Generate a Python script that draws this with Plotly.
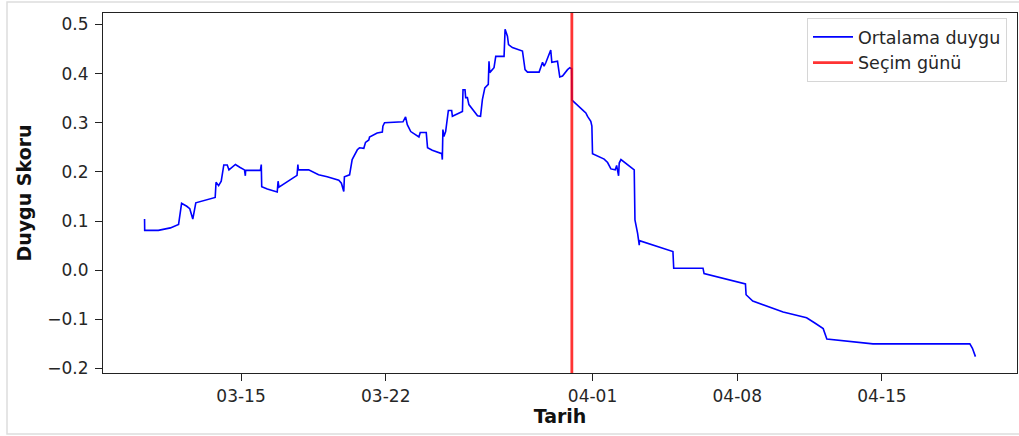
import pandas as pd
import plotly.graph_objects as go

# Rolling mean sentiment score over time
times = [
    "2024-03-10 08:00", "2024-03-10 08:10", "2024-03-11 00:00", "2024-03-11 14:00",
    "2024-03-11 23:30", "2024-03-12 03:00", "2024-03-12 09:00", "2024-03-12 12:30",
    "2024-03-12 16:00", "2024-03-12 19:30", "2024-03-13 18:00", "2024-03-13 19:00",
    "2024-03-13 22:00", "2024-03-14 01:00", "2024-03-14 04:00", "2024-03-14 08:00",
    "2024-03-14 10:00", "2024-03-14 13:30", "2024-03-14 17:30", "2024-03-14 23:00",
    "2024-03-15 04:00", "2024-03-15 05:00", "2024-03-15 05:20", "2024-03-15 22:30",
    "2024-03-15 23:30", "2024-03-16 00:00", "2024-03-16 06:30", "2024-03-16 18:00",
    "2024-03-16 19:00", "2024-03-16 20:00", "2024-03-17 17:00", "2024-03-17 18:00",
    "2024-03-17 18:30", "2024-03-18 06:30", "2024-03-18 18:00", "2024-03-19 04:00",
    "2024-03-19 17:30", "2024-03-19 20:30", "2024-03-19 23:15", "2024-03-20 00:00",
    "2024-03-20 06:00", "2024-03-20 09:00", "2024-03-20 11:00", "2024-03-20 15:00",
    "2024-03-20 17:30", "2024-03-20 22:30", "2024-03-21 00:30", "2024-03-21 04:20",
    "2024-03-21 05:10", "2024-03-21 14:00", "2024-03-21 20:00", "2024-03-21 20:40",
    "2024-03-21 22:35", "2024-03-22 09:30", "2024-03-22 20:00", "2024-03-22 23:00",
    "2024-03-23 01:00", "2024-03-23 05:00", "2024-03-23 10:30", "2024-03-23 14:30",
    "2024-03-23 16:00", "2024-03-23 23:00", "2024-03-24 00:30", "2024-03-24 06:00",
    "2024-03-24 17:00", "2024-03-24 17:40", "2024-03-24 18:20", "2024-03-24 19:30",
    "2024-03-24 21:30", "2024-03-24 23:30", "2024-03-25 00:40", "2024-03-25 04:30",
    "2024-03-25 05:20", "2024-03-25 17:00", "2024-03-25 17:40", "2024-03-25 20:00",
    "2024-03-25 20:45", "2024-03-25 22:45", "2024-03-26 00:30", "2024-03-26 10:30",
    "2024-03-26 14:00", "2024-03-26 16:10", "2024-03-26 19:00", "2024-03-26 23:00",
    "2024-03-26 23:50", "2024-03-27 00:40", "2024-03-27 05:40", "2024-03-27 07:40",
    "2024-03-27 17:20", "2024-03-27 18:30", "2024-03-27 21:15", "2024-03-27 22:30",
    "2024-03-28 03:00", "2024-03-28 14:40", "2024-03-28 17:40", "2024-03-28 20:30",
    "2024-03-29 10:00", "2024-03-29 14:00", "2024-03-29 15:45", "2024-03-29 17:45",
    "2024-03-29 23:30", "2024-03-30 00:45", "2024-03-30 07:20", "2024-03-30 10:00",
    "2024-03-30 13:10", "2024-03-30 19:00", "2024-03-30 21:40", "2024-03-30 23:50",
    "2024-03-31 00:10", "2024-03-31 14:15", "2024-03-31 16:15", "2024-03-31 18:15",
    "2024-03-31 22:00", "2024-03-31 23:15", "2024-04-01 00:00", "2024-04-01 13:30",
    "2024-04-01 17:30", "2024-04-01 21:20", "2024-04-02 02:20", "2024-04-02 04:00",
    "2024-04-02 06:15", "2024-04-02 07:00", "2024-04-02 09:00", "2024-04-03 00:25",
    "2024-04-03 01:15", "2024-04-03 04:20", "2024-04-03 06:15", "2024-04-03 06:30",
    "2024-04-04 21:20", "2024-04-04 22:15", "2024-04-06 08:15", "2024-04-06 09:30",
    "2024-04-08 09:30", "2024-04-08 10:15", "2024-04-08 18:00", "2024-04-10 05:15",
    "2024-04-11 08:30", "2024-04-11 18:30", "2024-04-12 03:45", "2024-04-12 08:00",
    "2024-04-13 07:40", "2024-04-14 13:30", "2024-04-19 06:00", "2024-04-19 09:00",
    "2024-04-19 12:30",
]

scores = [
    0.104, 0.081, 0.081, 0.086,
    0.093, 0.136, 0.130, 0.125,
    0.104, 0.137, 0.148, 0.179,
    0.172, 0.181, 0.214, 0.214,
    0.204, 0.210, 0.215, 0.209,
    0.204, 0.192, 0.203, 0.203,
    0.215, 0.170, 0.165, 0.159,
    0.181, 0.169, 0.193, 0.215,
    0.204, 0.204, 0.194, 0.190,
    0.183, 0.177, 0.160, 0.190,
    0.194, 0.225, 0.232, 0.245,
    0.249, 0.248, 0.260, 0.265,
    0.271, 0.279, 0.281, 0.293,
    0.300, 0.301, 0.302, 0.312,
    0.296, 0.282, 0.276, 0.271,
    0.280, 0.280, 0.249, 0.244,
    0.237, 0.225, 0.286, 0.272,
    0.282, 0.306, 0.325, 0.325,
    0.313, 0.323, 0.367, 0.367,
    0.351, 0.351, 0.337, 0.314,
    0.313, 0.347, 0.371, 0.378,
    0.425, 0.402, 0.412, 0.435,
    0.435, 0.490, 0.476, 0.459,
    0.453, 0.446, 0.408, 0.403,
    0.403, 0.423, 0.415, 0.422,
    0.448, 0.423, 0.425, 0.393,
    0.395, 0.408, 0.412, 0.410,
    0.346, 0.323, 0.320, 0.313,
    0.303, 0.293, 0.237, 0.226,
    0.219, 0.206, 0.204, 0.213,
    0.192, 0.218, 0.225, 0.204,
    0.102, 0.075, 0.051, 0.060,
    0.038, 0.004, 0.004, -0.007,
    -0.028, -0.050, -0.063, -0.085,
    -0.097, -0.108, -0.119, -0.140,
    -0.144, -0.150, -0.150, -0.159,
    -0.176,
]

election_day = "2024-03-31"

x_tick_dates = ["2024-03-15", "2024-03-22", "2024-04-01", "2024-04-08", "2024-04-15"]
x_tick_labels = ["03-15", "03-22", "04-01", "04-08", "04-15"]
y_tick_values = [-0.2, -0.1, 0.0, 0.1, 0.2, 0.3, 0.4, 0.5]

ts = pd.to_datetime(pd.Series(times))

# Axis limits with a 5% padding around the data
t_lo, t_hi = ts.min(), ts.max()
t_pad = (t_hi - t_lo) * 0.05
x_range = [t_lo - t_pad, t_hi + t_pad]
y_lo, y_hi = min(scores), max(scores)
y_pad = (y_hi - y_lo) * 0.05
y_range = [y_lo - y_pad, y_hi + y_pad]

W, H = 1019, 436
ML, MR, MT, MB = 103, 2, 13, 63
PW, PH = W - ML - MR, H - MT - MB

fig = go.Figure()

fig.add_trace(go.Scatter(
    x=ts, y=scores, mode="lines", name="Ortalama duygu",
    line=dict(color="#0000ff", width=1.6),
    legendgroup="a",
))

fig.add_trace(go.Scatter(
    x=[pd.Timestamp(election_day)] * 2, y=y_range, mode="lines", name="Seçim günü",
    line=dict(color="rgba(255,0,0,0.8)", width=2.8),
    legendgroup="b",
))

axis_common = dict(
    showline=True, linecolor="#222222", linewidth=1.2, mirror=True,
    ticks="outside", ticklen=7, tickwidth=1.2, tickcolor="#222222",
    showgrid=False, zeroline=False,
    tickfont=dict(family="DejaVu Sans", size=17, color="#262626"),
)

fig.update_xaxes(
    type="date", range=x_range,
    tickmode="array", tickvals=x_tick_dates, ticktext=x_tick_labels,
    title=dict(text="<b>Tarih</b>", font=dict(family="DejaVu Sans", size=19, color="#111111"),
               standoff=4),
    **axis_common,
)
fig.update_yaxes(
    range=y_range, tickmode="array", tickvals=y_tick_values, tickformat=".1f",
    ticklabelstandoff=3,
    title=dict(text="<b>Duygu Skoru</b>", font=dict(family="DejaVu Sans", size=19, color="#111111"),
               standoff=10),
    **axis_common,
)

# Light outer frame around the whole figure
fig.add_shape(
    type="rect", xref="paper", yref="paper", layer="below",
    x0=(7 - ML) / PW, x1=(W + 1 - ML) / PW,
    y0=(MT + PH - 434) / PH, y1=(MT + PH - 2) / PH,
    line=dict(color="#dddddd", width=1.5), fillcolor="rgba(0,0,0,0)",
)

fig.update_layout(
    width=W, height=H,
    margin=dict(l=ML, r=MR, t=MT, b=MB, autoexpand=False),
    paper_bgcolor="white", plot_bgcolor="white",
    font=dict(family="DejaVu Sans", color="#262626"),
    showlegend=True,
    legend=dict(
        x=1 - 10 / PW, xanchor="right", y=1 - 5 / PH, yanchor="top",
        bgcolor="rgba(255,255,255,0.9)", bordercolor="#d6d6d6", borderwidth=1,
        font=dict(family="DejaVu Sans", size=17.5, color="#262626"),
        tracegroupgap=0, itemwidth=40,
    ),
)

fig.write_html("out.html")
